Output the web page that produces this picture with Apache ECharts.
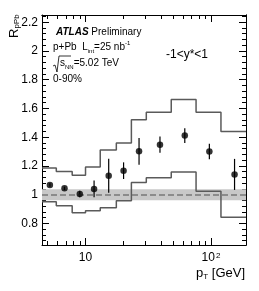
<!DOCTYPE html>
<html>
<head>
<meta charset="utf-8">
<script src="https://cdn.jsdelivr.net/npm/echarts@6/dist/echarts.min.js"></script>
<style>html,body{margin:0;padding:0;background:#fff;}#c{width:259px;height:291px;}</style>
</head>
<body>
<div id="c"></div>
<script>
// ---- data ----
const pT        = [5.2, 6.8, 9.0, 11.7, 15.3, 20.1, 26.7, 39.2, 61.8, 97, 154];
const R         = [1.068, 1.044, 1.005, 1.040, 1.132, 1.167, 1.302, 1.348, 1.411, 1.300, 1.141];
const statErr   = [0.012, 0.012, 0.023, 0.058, 0.118, 0.058, 0.093, 0.056, 0.051, 0.054, 0.108];
const binEdges  = [4.5, 5.85, 7.83, 10, 13.1, 17.6, 23.2, 30.5, 48.2, 76, 120, 190];
const sysUp     = [1.185, 1.162, 1.136, 1.192, 1.311, 1.360, 1.521, 1.574, 1.662, 1.574, 1.439];
const sysDown   = [0.951, 0.923, 0.875, 0.889, 0.909, 0.958, 1.084, 1.118, 1.157, 1.024, 0.843];
const normBand  = [0.962, 1.038];
const xMajorTicks  = [10, 100];
const xMajorLabels = ['10', '10{sup|2}'];
const xMinorTicks  = [5, 6, 7, 8, 9, 20, 30, 40, 50, 60, 70, 80, 90];
const yMajorTicks  = [0.8, 1, 1.2, 1.4, 1.6, 1.8, 2, 2.2];
const yMinorTicks  = [0.68, 0.72, 0.76, 0.84, 0.88, 0.92, 0.96, 1.04, 1.08, 1.12, 1.16, 1.24, 1.28, 1.32, 1.36,
                      1.44, 1.48, 1.52, 1.56, 1.64, 1.68, 1.72, 1.76, 1.84, 1.88, 1.92, 1.96, 2.04, 2.08, 2.12, 2.16, 2.24];
const xMin = 4.5, xMax = 190, yMin = 0.65, yMax = 2.25;

const FONT = 'Liberation Sans';
const lg = v => Math.log10(v);

function stepData(edges, vals) {
  const d = [];
  for (let i = 0; i < vals.length; i++) d.push([edges[i], vals[i]]);
  d.push([edges[edges.length - 1], vals[vals.length - 1]]);
  return d;
}

const chart = echarts.init(document.getElementById('c'), null, {renderer: 'canvas'});

const tickX = (pos, vals, len, labels) => ({
  type: 'value', gridIndex: 0, position: pos,
  min: lg(xMin), max: lg(xMax),
  axisLine: {show: pos === 'top', onZero: false, lineStyle: {color: '#000', width: 1}},
  axisTick: {show: true, inside: true, length: len, customValues: vals.map(lg), lineStyle: {color: '#000', width: 1}},
  axisLabel: labels ? {
    show: true, customValues: vals.map(lg), margin: 7, color: '#000', fontFamily: FONT, fontSize: 12,
    formatter: v => labels[Math.round(v) - 1],
    rich: {sup: {fontSize: 8, fontFamily: FONT, color: '#000', verticalAlign: 'top', lineHeight: 8, padding: [0, 0, 0, 1]}}
  } : {show: false},
  splitLine: {show: false}
});
const tickY = (pos, vals, len, labels) => ({
  type: 'value', gridIndex: 0, position: pos,
  min: yMin, max: yMax,
  axisLine: {show: pos === 'right', onZero: false, lineStyle: {color: '#000', width: 1}},
  axisTick: {show: true, inside: true, length: len, customValues: vals, lineStyle: {color: '#000', width: 1}},
  axisLabel: labels ? {show: true, customValues: vals, margin: 4, color: '#000', fontFamily: FONT, fontSize: 12} : {show: false},
  splitLine: {show: false}
});

const option = {
  animation: false,
  backgroundColor: '#fff',
  grid: {left: 42, top: 15, width: 204, height: 230},
  xAxis: [
    {type: 'log', logBase: 10, min: xMin, max: xMax, position: 'bottom',
     axisLine: {show: true, onZero: false, lineStyle: {color: '#000', width: 1}},
     axisTick: {show: false}, axisLabel: {show: false}, splitLine: {show: false}, minorTick: {show: false}},
    tickX('bottom', xMajorTicks, 7, xMajorLabels),
    tickX('bottom', xMinorTicks, 4, null),
    tickX('top', xMajorTicks, 7, null),
    tickX('top', xMinorTicks, 4, null)
  ],
  yAxis: [
    {type: 'value', min: yMin, max: yMax, position: 'left',
     axisLine: {show: true, onZero: false, lineStyle: {color: '#000', width: 1}},
     axisTick: {show: true, inside: true, length: 7, customValues: yMajorTicks, lineStyle: {color: '#000'}},
     axisLabel: {show: true, customValues: yMajorTicks, margin: 4, color: '#000', fontFamily: FONT, fontSize: 12},
     splitLine: {show: false}},
    tickY('left', yMinorTicks, 4, null),
    tickY('right', yMajorTicks, 7, null),
    tickY('right', yMinorTicks, 4, null)
  ],
  series: [
    {
      type: 'line', name: 'norm', xAxisIndex: 0, yAxisIndex: 0, data: [], silent: true, z: 1,
      markArea: {silent: true, itemStyle: {color: '#c8c8c8'},
        data: [[{yAxis: normBand[0]}, {yAxis: normBand[1]}]]},
      markLine: {silent: true, symbol: ['none', 'none'], label: {show: false},
        lineStyle: {color: '#777', width: 1.5, type: [6, 3]},
        data: [{yAxis: 1}]}
    },
    {
      type: 'line', name: 'sysUp', xAxisIndex: 0, yAxisIndex: 0, step: 'end', showSymbol: false, z: 3,
      lineStyle: {color: '#5a5a5a', width: 1.5}, data: stepData(binEdges, sysUp)
    },
    {
      type: 'line', name: 'sysDown', xAxisIndex: 0, yAxisIndex: 0, step: 'end', showSymbol: false, z: 3,
      lineStyle: {color: '#5a5a5a', width: 1.5}, data: stepData(binEdges, sysDown)
    },
    {
      type: 'custom', name: 'stat', xAxisIndex: 0, yAxisIndex: 0, z: 4,
      data: pT.map((x, i) => [x, R[i] - statErr[i], R[i] + statErr[i]]),
      renderItem: (params, api) => {
        const a = api.coord([api.value(0), api.value(1)]);
        const b = api.coord([api.value(0), api.value(2)]);
        return {type: 'line', shape: {x1: a[0], y1: a[1], x2: b[0], y2: b[1]},
                style: {stroke: '#000', lineWidth: 1.2}};
      }
    },
    {
      type: 'scatter', name: 'RpPb', xAxisIndex: 0, yAxisIndex: 0, z: 5,
      symbol: 'circle', symbolSize: 6.5, itemStyle: {color: '#000'},
      data: pT.map((x, i) => [x, R[i]])
    }
  ],
  graphic: [
    {type: 'text', x: 14, y: 38, rotation: Math.PI / 2,
     style: {text: 'R{s|pPb}', fill: '#000', font: '13px ' + FONT, align: 'left', verticalAlign: 'middle',
       rich: {s: {fontSize: 8, fontFamily: FONT, fill: '#000', verticalAlign: 'bottom', padding: [6, 0, 0, 0]}}}},
    {type: 'text', x: 245, y: 273,
     style: {text: 'p{s|T} [GeV]', fill: '#000', font: '13px ' + FONT, align: 'right', verticalAlign: 'middle',
       rich: {s: {fontSize: 8, fontFamily: FONT, fill: '#000', verticalAlign: 'bottom', padding: [8, 0, 0, 0]}}}},
    {type: 'text', x: 56, y: 32,
     style: {text: '{a|ATLAS} Preliminary', fill: '#000', font: '10px ' + FONT, align: 'left', verticalAlign: 'middle',
       rich: {a: {fontSize: 10, fontFamily: FONT, fontWeight: 'bold', fontStyle: 'italic', fill: '#000'}}}},
    {type: 'text', x: 53, y: 47,
     style: {text: 'p+Pb  L{s|int}=25 nb{u|-1}', fill: '#000', font: '10px ' + FONT, align: 'left', verticalAlign: 'middle',
       rich: {s: {fontSize: 6, fontFamily: FONT, fill: '#000', padding: [8, 0, 0, 0]},
              u: {fontSize: 6, fontFamily: FONT, fill: '#000', padding: [0, 0, 8, 0]}}}},
    {type: 'polyline', shape: {points: [[53, 66], [55, 65], [57, 72], [59, 56], [71, 56]]},
     style: {stroke: '#000', lineWidth: 0.8, fill: null}},
    {type: 'text', x: 60, y: 63,
     style: {text: 's{s|NN}=5.02 TeV', fill: '#000', font: '10px ' + FONT, align: 'left', verticalAlign: 'middle',
       rich: {s: {fontSize: 6, fontFamily: FONT, fill: '#000', padding: [9, 0, 0, 0]}}}},
    {type: 'text', x: 53, y: 79,
     style: {text: '0-90%', fill: '#000', font: '10px ' + FONT, align: 'left', verticalAlign: 'middle'}},
    {type: 'text', x: 166, y: 55,
     style: {text: '-1<y*<1', fill: '#000', font: '12px ' + FONT, align: 'left', verticalAlign: 'middle'}}
  ]
};
chart.setOption(option);
</script>
</body>
</html>
